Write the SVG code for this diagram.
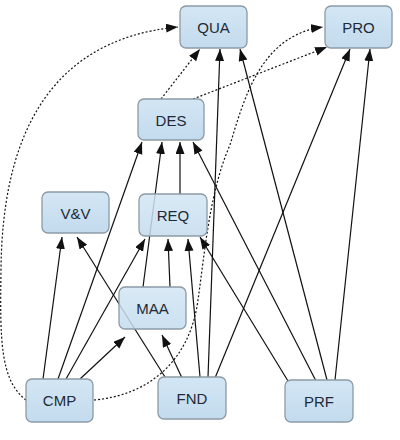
<svg xmlns="http://www.w3.org/2000/svg" width="400" height="440" viewBox="0 0 400 440">
<defs>
<linearGradient id="g" x1="0" y1="0" x2="0" y2="1"><stop offset="0" stop-color="#d3e6f4"/><stop offset="1" stop-color="#c3dbee"/></linearGradient>
<marker id="a" markerUnits="userSpaceOnUse" markerWidth="13" markerHeight="10" refX="12" refY="4.5" orient="auto"><path d="M0,0 L12,4.5 L0,9 z" fill="#111"/></marker>
</defs>
<style>
.n rect{fill:url(#g);stroke:#8c9aa6;stroke-width:1.3}
.n text{font-family:"Liberation Sans",Arial,sans-serif;font-size:15px;fill:#1e2a35;text-anchor:middle;dominant-baseline:central}
.e path{fill:none;stroke:#111;stroke-width:1.2;marker-end:url(#a)}
.e .d{stroke-dasharray:2,2}
</style>
<rect width="400" height="440" fill="#fff"/>
<g class="e">
<path class="d" d="M26,400 C 0,380 0,340 1,270 C 2,150 40,40 178,27"/>
<path class="d" d="M94,400 C 150,395 190,360 198,300 C 205,250 210,190 230,145 C 245,95 262,35 323,27"/>
<path class="d" d="M161,99 L200,49"/>
<path class="d" d="M193,99 L327,47"/>
<path d="M208,377 L220,49"/>
<path d="M327,380 L240,49"/>
<path d="M215,378 L350,49"/>
<path d="M335,380 L370,49"/>
<path d="M58,379 L142,142"/>
<path d="M143,287 L162,142"/>
<path d="M180,194 L180,142"/>
<path d="M316,381 L193,142"/>
<path d="M43,379 L62,237"/>
<path d="M165,377 L77,237"/>
<path d="M66,379 L145,239"/>
<path d="M170,287 L168,239"/>
<path d="M200,377 L188,239"/>
<path d="M288,381 L200,237"/>
<path d="M80,379 L125,337"/>
<path d="M182,378 L162,335"/>
</g>
<g id="QUA" class="n"><rect x="180" y="6" width="67" height="42" rx="6"/><text x="213.5" y="27">QUA</text></g>
<g id="PRO" class="n"><rect x="325" y="6" width="67" height="42" rx="6"/><text x="358.5" y="27">PRO</text></g>
<g id="DES" class="n"><rect x="138" y="99" width="66" height="41" rx="6"/><text x="171" y="120">DES</text></g>
<g id="VV" class="n"><rect x="42" y="192" width="67" height="41" rx="6"/><text x="75.5" y="213">V&amp;V</text></g>
<g id="REQ" class="n"><rect x="139" y="194" width="68" height="42" rx="6" style="fill-opacity:0.85"/><text x="173" y="215">REQ</text></g>
<g id="MAA" class="n"><rect x="119" y="287" width="67" height="42" rx="6" style="fill-opacity:0.85"/><text x="152.5" y="308">MAA</text></g>
<g id="CMP" class="n"><rect x="26" y="379" width="67" height="43" rx="6"/><text x="59.5" y="400">CMP</text></g>
<g id="FND" class="n"><rect x="158" y="377" width="68" height="42" rx="6"/><text x="192" y="398">FND</text></g>
<g id="PRF" class="n"><rect x="285" y="380" width="68" height="42" rx="6"/><text x="319" y="401">PRF</text></g>
</svg>
